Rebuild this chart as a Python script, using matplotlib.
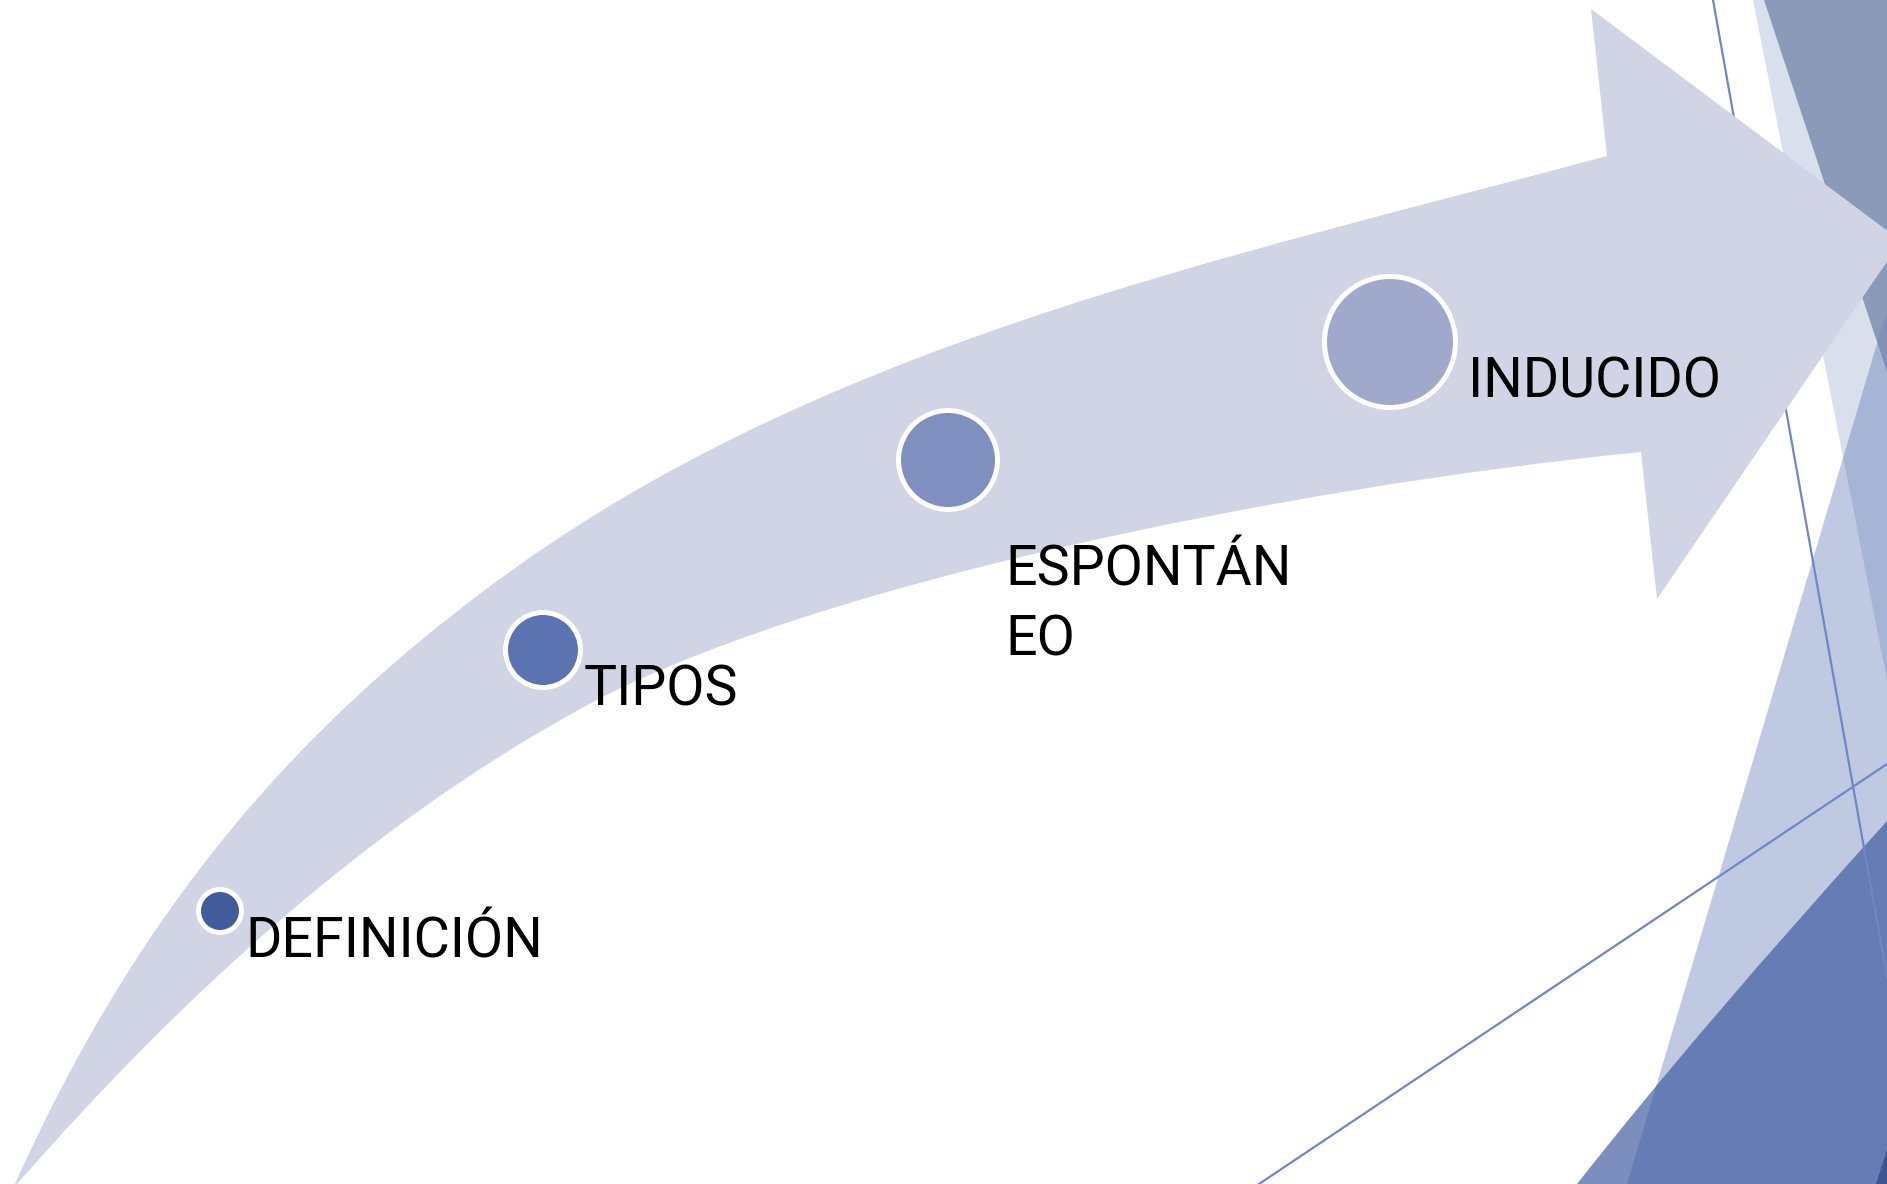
import matplotlib
matplotlib.use('Agg')
import matplotlib.pyplot as plt
from matplotlib.path import Path
from matplotlib.patches import PathPatch, Polygon, Circle

W, H = 1887, 1184

# process steps along the arrow
labels = ['DEFINICIÓN', 'TIPOS', 'ESPONTÁN\nEO', 'INDUCIDO']
node_x = [220, 543, 948, 1390]
node_y = [911, 650, 460, 342]
node_r = [19, 35, 47, 63]
node_colors = ['#415b9b', '#5b73b1', '#7f8fbf', '#a0a9cc']
label_x = [245, 584, 1005, 1468]
label_y = [958, 706, 586, 397]
line_gap = 69

# curved arrow outline (pixel coords, y down)
outer_start = (15, 1184)
outer_seg1 = [(146, 892), (309, 722), (485, 590)]
outer_seg2 = [(810, 345), (1221, 260), (1607, 156)]
head_pts = [(1591, 9), (1901, 241), (1657, 599), (1641, 452)]
inner_seg2 = [(1280, 488), (801, 587), (582, 708)]
inner_seg1 = [(366, 826), (179, 999), (17, 1184)]

# background decoration of the slide
deco_polys = [
    ([(1753, 0), (1887, 0), (1887, 680)], (120/255, 140/255, 190/255), 0.274),
    ([(1887, 310), (1627, 1184), (1887, 1184)], (68/255, 100/255, 170/255), 0.342),
    ([(1764, 0), (1887, 0), (1887, 372)], (120/255, 137/255, 172/255), 0.8),
    ([(1887, 1150), (1887, 1184), (1876, 1184)], (40/255, 50/255, 90/255), 0.8),
]
# lower right wedge, slightly curved edge
wedge_edge = [(1887, 821), (1702, 1025), (1577, 1184)]
wedge_color = (60/255, 88/255, 160/255)
deco_lines = [[(1713, 0), (1887, 977)], [(1259, 1184), (1887, 764)]]

fig = plt.figure(figsize=(W / 100, H / 100), dpi=100)
ax = fig.add_axes([0, 0, 1, 1])
ax.set_xlim(0, W)
ax.set_ylim(H, 0)
ax.axis('off')

for pts, col, a in deco_polys:
    ax.add_patch(Polygon(pts, closed=True, facecolor=col, alpha=a, edgecolor='none', zorder=1))
wedge = Path(wedge_edge + [(1887, 1184), wedge_edge[0]],
             [Path.MOVETO, Path.CURVE3, Path.CURVE3, Path.LINETO, Path.CLOSEPOLY])
ax.add_patch(PathPatch(wedge, facecolor=wedge_color, alpha=0.68, edgecolor='none', zorder=1))
for ln in deco_lines:
    ax.plot([p[0] for p in ln], [p[1] for p in ln], color='#6f87c5', lw=1.6, zorder=2)

verts = [outer_start] + outer_seg1 + outer_seg2 + head_pts + inner_seg2 + inner_seg1 + [outer_start]
codes = ([Path.MOVETO] + [Path.CURVE4] * 6 + [Path.LINETO] * 4 + [Path.CURVE4] * 6
         + [Path.CLOSEPOLY])
ax.add_patch(PathPatch(Path(verts, codes), facecolor='#d0d4e5', edgecolor='none', zorder=3))

for x, y, r, c in zip(node_x, node_y, node_r, node_colors):
    ax.add_patch(Circle((x, y), r + 2.5, facecolor=c, edgecolor='white', lw=3.6, zorder=4))

for lab, x, y in zip(labels, label_x, label_y):
    for i, part in enumerate(lab.split('\n')):
        ax.text(x, y + i * line_gap, part, fontsize=40, family='Roboto',
                color='black', ha='left', va='baseline', zorder=5)

fig.savefig('out.png', dpi=100, facecolor='white')
